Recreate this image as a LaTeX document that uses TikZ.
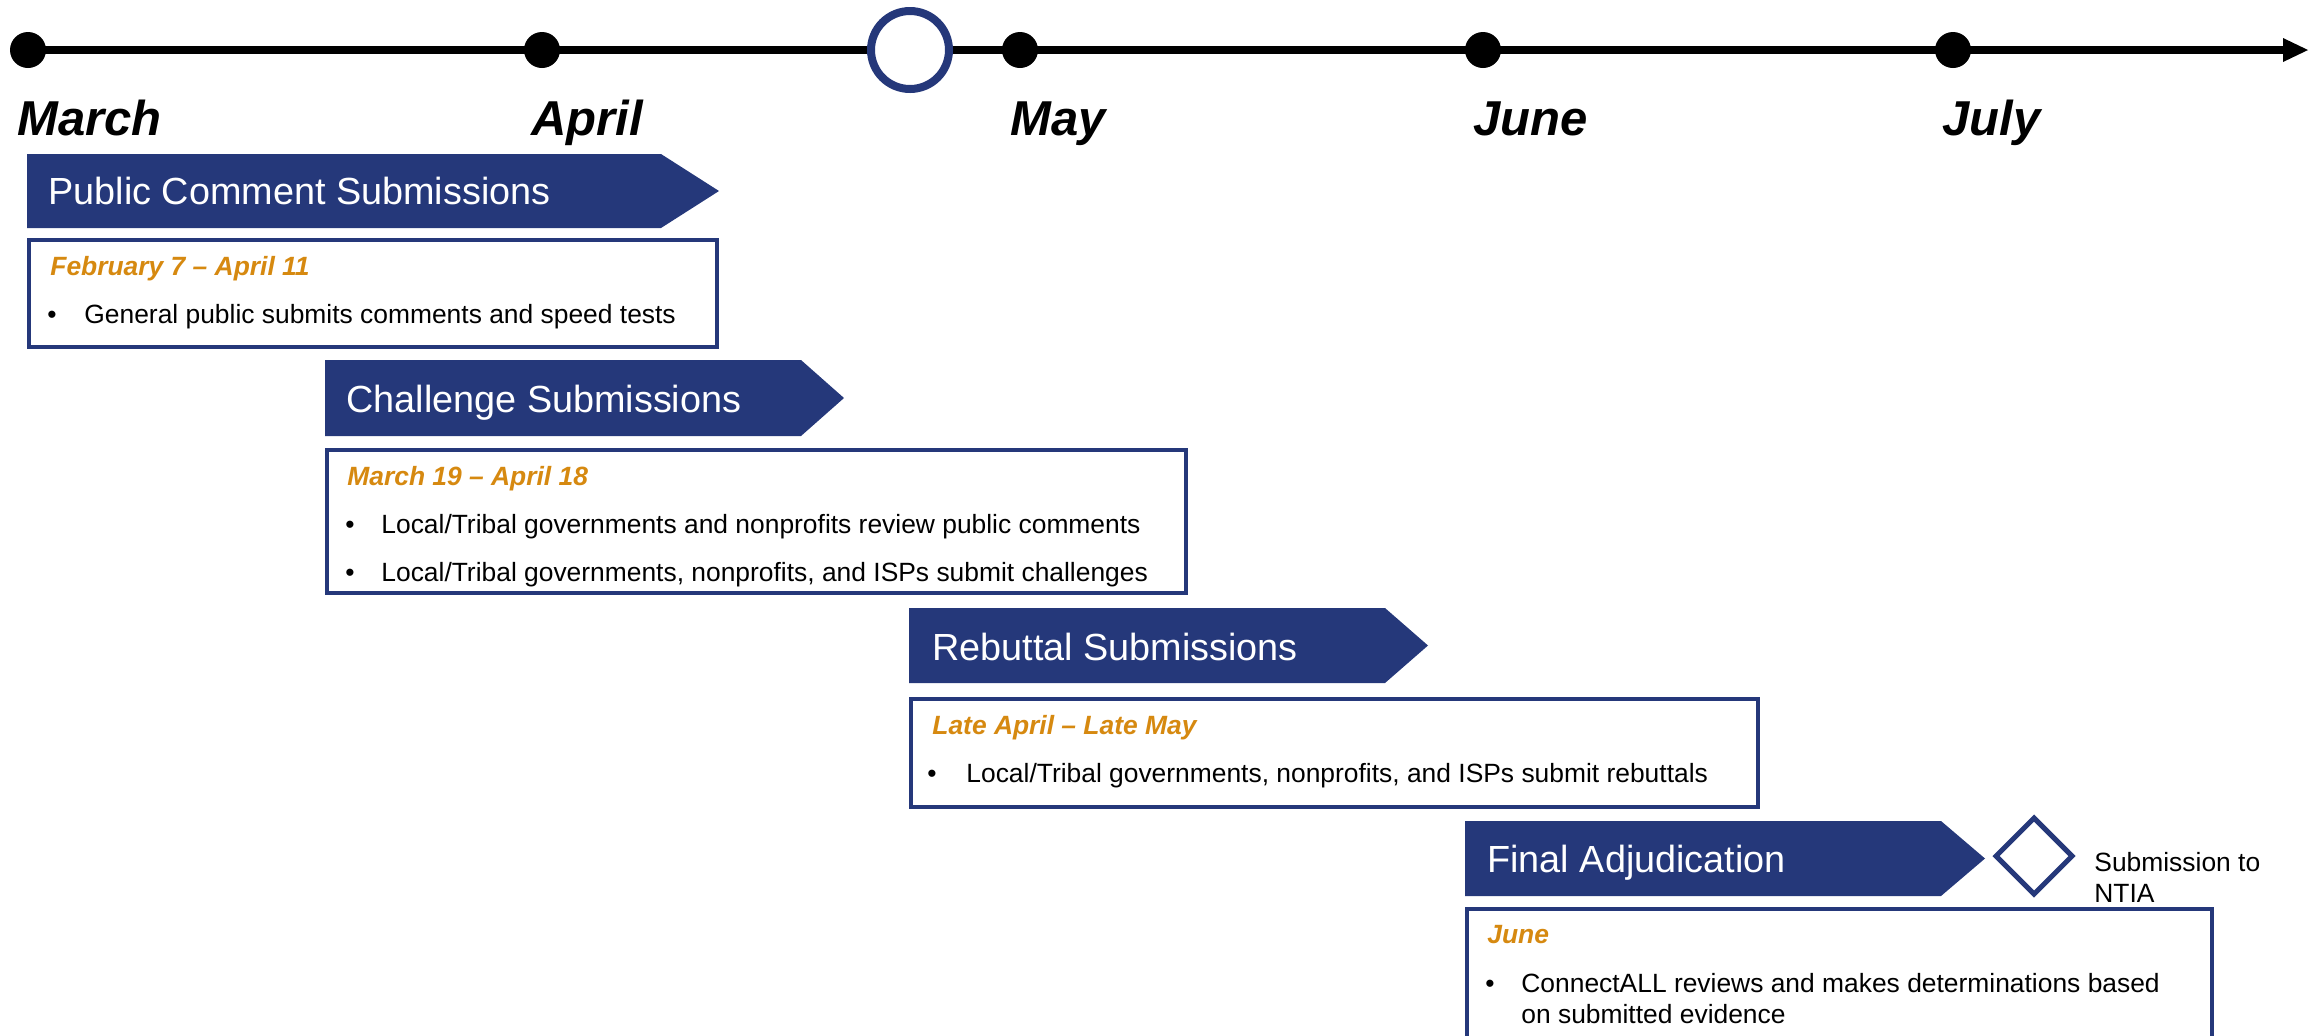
\documentclass[tikz,border=0pt]{standalone}
\usepackage{fontspec}
\setmainfont{Liberation Sans}
\definecolor{navy}{RGB}{37,56,122}
\definecolor{dateor}{RGB}{214,137,16}
\begin{document}
\begin{tikzpicture}[x=0.5pt,y=-0.5pt,
  month/.style={font=\fontsize{24.5}{29}\selectfont\bfseries\itshape, anchor=base west, inner sep=0},
  phase/.style={font=\fontsize{18.9}{22}\selectfont, text=white, anchor=base west, inner sep=0},
  datetxt/.style={font=\fontsize{13.2}{15}\selectfont\bfseries\itshape, text=dateor, anchor=base west, inner sep=0},
  item/.style={font=\fontsize{13.2}{15.5}\selectfont, anchor=base west, inner sep=0},
  chev/.style={fill=navy},
  panel/.style={draw=navy, line width=1.75pt, fill=white},
  dot/.style={circle, fill=black, inner sep=0, minimum size=18pt},
  milestone/.style={circle, draw=navy, line width=4pt, fill=white, inner sep=0, minimum size=39pt},
  gate/.style={draw=navy, line width=2.5pt, fill=white}
]
\useasboundingbox (0,0) rectangle (2313,1035);
\clip (0,0) rectangle (2313,1035);

% timeline
\coordinate (tEnd) at (2286,50);
\coordinate (tStart) at (28,50);
\draw[line width=4pt] (tStart) -- (tEnd);
\fill (2283,38) -- (2308,50) -- (2283,62) -- cycle;
\node[dot] (dMar) at (28,50) {};
\node[dot] (dApr) at (542,50) {};
\node[milestone] (mid) at (910,50) {};
\node[dot] (dMay) at (1020,50) {};
\node[dot] (dJun) at (1483,50) {};
\node[dot] (dJul) at (1953,50) {};

\node[month] (lMar) at (17,135) {March};
\node[month] (lApr) at (531,135) {April};
\node[month] (lMay) at (1010,135) {May};
\node[month] (lJun) at (1473,135) {June};
\node[month] (lJul) at (1942,135) {July};

% phase 1
\fill[chev] (27,154) -- (661,154) -- (719,191) -- (661,228) -- (27,228) -- cycle;
\node[phase] (p1) at (48,204) {Public Comment Submissions};
\draw[panel] (29,240) rectangle (717,347);
\node[datetxt] (d1) at (50,275) {February 7 – April 11};
\node[item] (b1a) at (47,323) {•};
\node[item] (t1a) at (84,323) {General public submits comments and speed tests};

% phase 2
\fill[chev] (325,360) -- (801,360) -- (844,398) -- (801,436) -- (325,436) -- cycle;
\node[phase] (p2) at (346,412) {Challenge Submissions};
\draw[panel] (327,450) rectangle (1186,593);
\node[datetxt] (d2) at (347,485) {March 19 – April 18};
\node[item] (b2a) at (345,533) {•};
\node[item] (t2a) at (381,533) {Local/Tribal governments and nonprofits review public comments};
\node[item] (b2b) at (345,581) {•};
\node[item] (t2b) at (381,581) {Local/Tribal governments, nonprofits, and ISPs submit challenges};

% phase 3
\fill[chev] (909,608) -- (1385,608) -- (1428,645.5) -- (1385,683) -- (909,683) -- cycle;
\node[phase] (p3) at (932,660) {Rebuttal Submissions};
\draw[panel] (911,699) rectangle (1758,807);
\node[datetxt] (d3) at (932,734) {Late April – Late May};
\node[item] (b3a) at (927,782) {•};
\node[item] (t3a) at (966,782) {Local/Tribal governments, nonprofits, and ISPs submit rebuttals};

% phase 4
\fill[chev] (1465,821) -- (1941,821) -- (1985,858.5) -- (1941,896) -- (1465,896) -- cycle;
\node[phase] (p4) at (1487,872) {Final Adjudication};
\draw[gate] (2034,818) -- (2072,856) -- (2034,894) -- (1996,856) -- cycle;
\node[item] (ntia1) at (2094,871) {Submission to};
\node[item] (ntia2) at (2094,902) {NTIA};
\draw[panel] (1467,909) rectangle (2212,1100);
\node[datetxt] (d4) at (1487,943) {June};
\node[item] (b4a) at (1485,992) {•};
\node[item] (t4a) at (1521,992) {ConnectALL reviews and makes determinations based};
\node[item] (t4b) at (1521,1023) {on submitted evidence};
\end{tikzpicture}
\end{document}
